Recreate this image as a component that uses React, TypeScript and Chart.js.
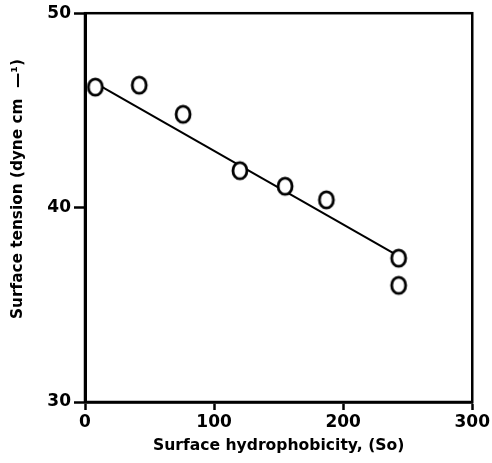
import React, { useEffect, useRef } from "react";
import { Chart, registerables } from "chart.js";

Chart.register(...registerables);

const xValues = [8, 42, 76, 120, 155, 187, 243, 243];
const yValues = [46.2, 46.3, 44.8, 41.9, 41.1, 40.4, 37.4, 36.0];
const fitX = [8, 243];
const fitY = [46.4, 37.5];
const xTicks = [0, 100, 200, 300];
const yTicks = [30, 40, 50];
const xTitle = "Surface hydrophobicity, (So)";
const yTitle = "\u00A0\u00A0\u00A0\u00A0\u00A0\u00A0\u00A0Surface tension (dyne cm  \u2014\u00B9)";

const FONT = "'DejaVu Sans', 'Liberation Sans', Arial, sans-serif";

function makeOval(): HTMLCanvasElement {
  const c = document.createElement("canvas");
  c.width = 20;
  c.height = 22;
  const g = c.getContext("2d")!;
  g.fillStyle = "#fff";
  g.strokeStyle = "#000";
  g.lineWidth = 2.8;
  g.beginPath();
  g.ellipse(10, 11, 7.0, 8.2, 0, 0, Math.PI * 2);
  g.fill();
  g.stroke();
  return c;
}

const framePlugin = {
  id: "frame",
  afterDraw(chart: any) {
    const { ctx, chartArea } = chart;
    ctx.save();
    ctx.strokeStyle = "#000";
    ctx.lineWidth = 2.5;
    ctx.strokeRect(chartArea.left, chartArea.top, chartArea.right - chartArea.left, chartArea.bottom - chartArea.top);
    ctx.restore();
  },
};

export default function App() {
  const ref = useRef<HTMLCanvasElement>(null);
  useEffect(() => {
    if (!ref.current) return;
    const oval = makeOval();
    const chart = new Chart(ref.current, {
      type: "scatter",
      data: {
        datasets: [
          {
            type: "scatter",
            data: xValues.map((x, i) => ({ x, y: yValues[i] })),
            pointStyle: oval as any,
            pointRadius: 8,
            order: 0,
          },
          {
            type: "line",
            data: fitX.map((x, i) => ({ x, y: fitY[i] })),
            borderColor: "#000",
            borderWidth: 2,
            pointRadius: 0,
            fill: false,
            order: 1,
          } as any,
        ],
      },
      options: {
        animation: false,
        responsive: false,
        maintainAspectRatio: false,
        layout: { padding: { left: 0, top: 12, right: 19, bottom: 0 } },
        plugins: { legend: { display: false }, tooltip: { enabled: false } },
        scales: {
          x: {
            type: "linear",
            min: 0,
            max: 300,
            afterBuildTicks: (s: any) => { s.ticks = xTicks.map((v) => ({ value: v })); },
            afterFit: (s: any) => { s.height = 61; },
            grid: { display: true, drawOnChartArea: false, drawTicks: true, tickLength: 8, tickWidth: 2.5, color: "#000" },
            border: { display: true, color: "#000", width: 2.8 },
            ticks: { color: "#000", font: { family: FONT, size: 17, weight: "bold" }, padding: 2, maxRotation: 0 },
            title: { display: true, text: xTitle, color: "#000", font: { family: FONT, size: 15.6, weight: "bold" }, padding: { top: 3, bottom: 8 } },
          },
          y: {
            type: "linear",
            min: 30,
            max: 50,
            afterBuildTicks: (s: any) => { s.ticks = yTicks.map((v) => ({ value: v })); },
            afterFit: (s: any) => { s.width = 85; },
            grid: { display: true, drawOnChartArea: false, drawTicks: true, tickLength: 11, tickWidth: 2.5, color: "#000" },
            border: { display: true, color: "#000", width: 3 },
            ticks: { color: "#000", font: { family: FONT, size: 17, weight: "bold" }, padding: 3 },
            title: { display: true, text: yTitle, color: "#000", font: { family: FONT, size: 15.3, weight: "bold" }, padding: { top: 9, bottom: 4 } },
          },
        },
      },
      plugins: [framePlugin],
    });
    return () => chart.destroy();
  }, []);
  return (
    <div style={{ position: "fixed", left: 0, top: 0, width: 492, height: 463, background: "#fff" }}>
      <canvas ref={ref} width={492} height={463} style={{ display: "block" }} />
    </div>
  );
}
